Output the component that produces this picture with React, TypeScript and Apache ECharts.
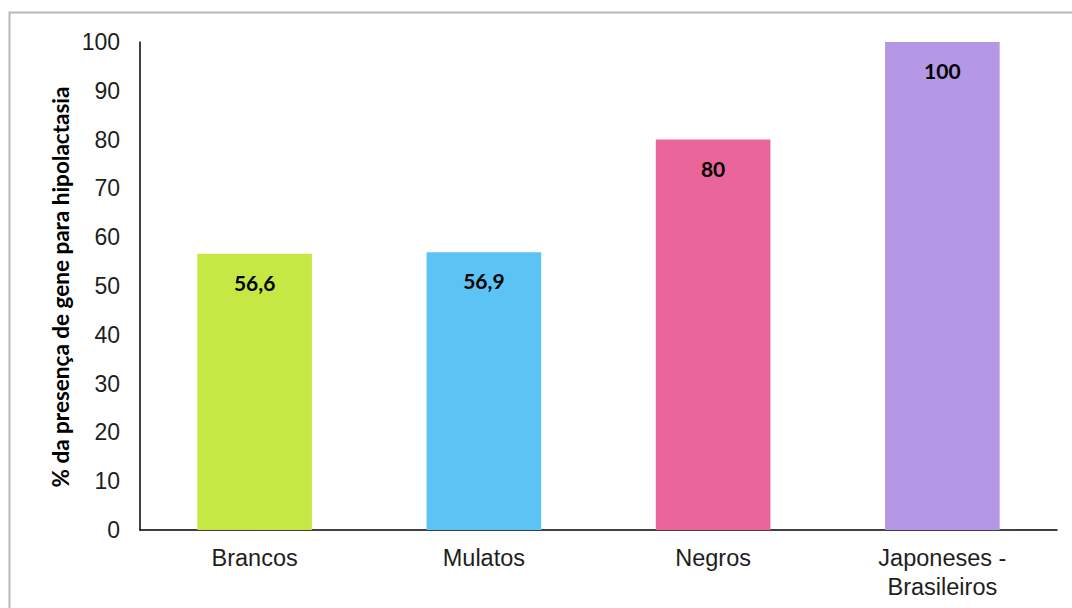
import React, { useEffect, useRef } from "react";
import * as echarts from "echarts";

const categories = ["Brancos", "Mulatos", "Negros", "Japoneses -\nBrasileiros"];
const values = [56.6, 56.9, 80, 100];
const valueLabels = ["56,6", "56,9", "80", "100"];
const barColors = ["#C5E844", "#5BC4F5", "#EA6599", "#B498E6"];
const yTicks = { min: 0, max: 100, interval: 10 };
const yTitle = "% da presença de gene para hipolactasia";

export default function App() {
  const ref = useRef<HTMLDivElement>(null);
  useEffect(() => {
    const chart = echarts.init(ref.current!, null, { renderer: "svg" });
    chart.setOption({
      animation: false,
      backgroundColor: "#fff",
      graphic: [
        {
          type: "rect",
          shape: { x: 9.5, y: 12.5, width: 1100, height: 700 },
          style: { fill: "none", stroke: "#b8b8b8", lineWidth: 2 },
          silent: true,
        },
        {
          type: "text",
          x: 60,
          y: 287,
          rotation: Math.PI / 2,
          style: {
            text: yTitle,
            font: "bold 22.5px Lato, 'Noto Sans', sans-serif",
            fill: "#000",
            align: "center",
            verticalAlign: "middle",
          },
        },
      ],
      grid: { left: 140, right: 15, top: 42, bottom: 78, containLabel: false },
      xAxis: {
        type: "category",
        data: categories,
        axisLine: { lineStyle: { color: "#000", width: 1.5 } },
        axisTick: { show: false },
        axisLabel: {
          color: "#1e1e1e",
          fontSize: 23.5,
          fontFamily: "Liberation Sans",
          margin: 13,
          lineHeight: 29,
        },
      },
      yAxis: {
        type: "value",
        min: yTicks.min,
        max: yTicks.max,
        interval: yTicks.interval,
        axisLine: { show: true, lineStyle: { color: "#000", width: 1.5 } },
        axisTick: { show: false },
        splitLine: { show: false },
        axisLabel: {
          color: "#1e1e1e",
          fontSize: 23,
          fontFamily: "Liberation Sans",
          margin: 20,
        },
      },
      series: [
        {
          type: "bar",
          barWidth: "50%",
          data: values.map((v, i) => ({ value: v, itemStyle: { color: barColors[i] } })),
          label: {
            show: true,
            position: "insideTop",
            distance: 18,
            formatter: (p: any) => valueLabels[p.dataIndex],
            color: "#000",
            fontWeight: "bold",
            fontSize: 21,
            fontFamily: "Lato, 'Noto Sans', sans-serif",
          },
        },
      ],
    });
    return () => chart.dispose();
  }, []);
  return (
    <div
      ref={ref}
      style={{ position: "absolute", left: 0, top: 0, width: 1072, height: 608 }}
    />
  );
}
